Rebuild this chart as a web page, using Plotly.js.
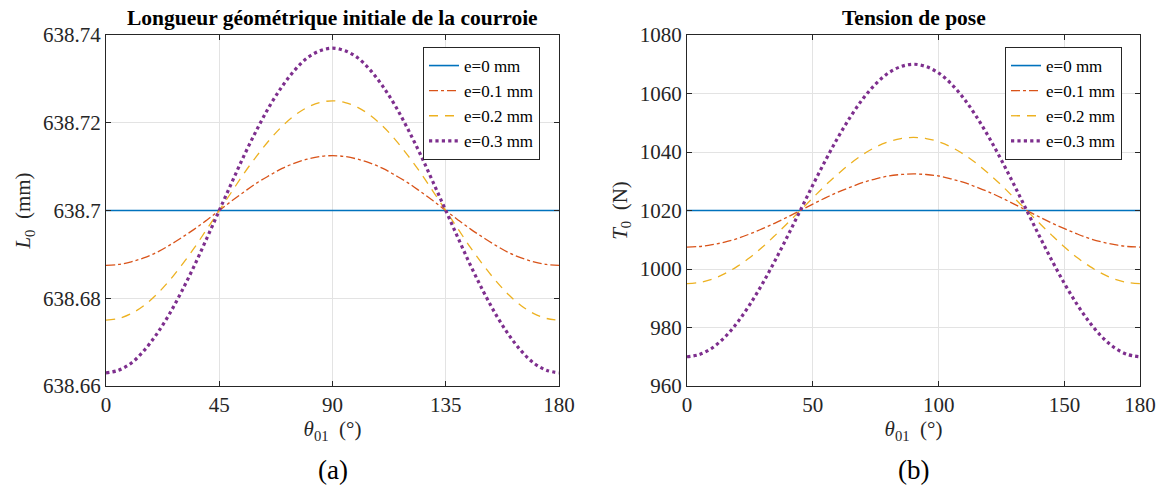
<!DOCTYPE html>
<html><head><meta charset="utf-8">
<script src="https://cdn.plot.ly/plotly-3.0.1.min.js"></script>
<style>html,body{margin:0;padding:0;background:#fff}</style>
</head><body><div id="chart" style="width:1165px;height:493px"></div>
<script>
// theta (degrees), 5-degree steps
const theta = [0,5,10,15,20,25,30,35,40,45,50,55,60,65,70,75,80,85,90,95,100,105,110,115,120,125,130,135,140,145,150,155,160,165,170,175,180];
const thetaFlat = [0,180];
const legendNames = ['e=0 mm','e=0.1 mm','e=0.2 mm','e=0.3 mm'];

// (a) L0 (mm)
const L0_e0 = [638.7,638.7];
const L0_e01 = [638.6875,638.6877,638.6883,638.6892,638.6904,638.6920,638.6938,638.6957,638.6978,638.7000,638.7022,638.7043,638.7063,638.7080,638.7096,638.7108,638.7117,638.7123,638.7125,
                638.7123,638.7117,638.7108,638.7096,638.7080,638.7063,638.7043,638.7022,638.7000,638.6978,638.6957,638.6938,638.6920,638.6904,638.6892,638.6883,638.6877,638.6875];
const L0_e02 = [638.6750,638.6754,638.6765,638.6783,638.6808,638.6839,638.6875,638.6914,638.6957,638.7000,638.7043,638.7086,638.7125,638.7161,638.7192,638.7217,638.7235,638.7246,638.7250,
                638.7246,638.7235,638.7217,638.7192,638.7161,638.7125,638.7086,638.7043,638.7000,638.6957,638.6914,638.6875,638.6839,638.6808,638.6783,638.6765,638.6754,638.6750];
const L0_e03 = [638.6630,638.6636,638.6652,638.6680,638.6717,638.6762,638.6815,638.6873,638.6936,638.7000,638.7064,638.7127,638.7185,638.7238,638.7283,638.7320,638.7348,638.7364,638.7370,
                638.7364,638.7348,638.7320,638.7283,638.7238,638.7185,638.7127,638.7064,638.7000,638.6936,638.6873,638.6815,638.6762,638.6717,638.6680,638.6652,638.6636,638.6630];

// (b) T0 (N)
const T0_e0 = [1020,1020];
const T0_e01 = [1007.5,1007.7,1008.3,1009.2,1010.4,1012.0,1013.8,1015.7,1017.8,1020.0,1022.2,1024.3,1026.3,1028.0,1029.6,1030.8,1031.8,1032.3,1032.5,
                1032.3,1031.8,1030.8,1029.6,1028.0,1026.3,1024.3,1022.2,1020.0,1017.8,1015.7,1013.8,1012.0,1010.4,1009.2,1008.3,1007.7,1007.5];
const T0_e02 = [995.0,995.4,996.5,998.4,1000.9,1003.9,1007.5,1011.5,1015.7,1020.0,1024.3,1028.6,1032.5,1036.1,1039.2,1041.7,1043.5,1044.6,1045.0,
                1044.6,1043.5,1041.7,1039.2,1036.1,1032.5,1028.6,1024.3,1020.0,1015.7,1011.5,1007.5,1003.9,1000.9,998.4,996.5,995.4,995.0];
const T0_e03 = [970.0,970.8,973.0,976.7,981.7,987.9,995.0,1002.9,1011.3,1020.0,1028.7,1037.1,1045.0,1052.1,1058.3,1063.3,1067.0,1069.2,1070.0,
                1069.2,1067.0,1063.3,1058.3,1052.1,1045.0,1037.1,1028.7,1020.0,1011.3,1002.9,995.0,987.9,981.7,976.7,973.0,970.8,970.0];

// tick labels
const xTicksA = [0,45,90,135,180];
const xTicksB = [0,50,100,150,180];
const yTicksA = [638.66,638.68,638.7,638.72,638.74];
const yTickTextA = ['638.66','638.68','638.7','638.72','638.74'];
const yTicksB = [960,980,1000,1020,1040,1060,1080];

const colors = ['#0072BD','#D95319','#EDB120','#7E2F8E'];
const styles = [
  {color:colors[0], width:1.6, dash:'solid'},
  {color:colors[1], width:1.3, dash:'dashdot'},
  {color:colors[2], width:1.3, dash:'9px,7px'},
  {color:colors[3], width:3.2, dash:'dot'}
];
const FONT = 'Liberation Serif';

const aY = [L0_e0, L0_e01, L0_e02, L0_e03];
const bY = [T0_e0, T0_e01, T0_e02, T0_e03];
const traces = [];
aY.forEach((y,i)=>traces.push({x: i===0?thetaFlat:theta, y:y, name:legendNames[i], mode:'lines', line:Object.assign({shape:'spline'},styles[i]), xaxis:'x', yaxis:'y', legend:'legend'}));
bY.forEach((y,i)=>traces.push({x: i===0?thetaFlat:theta, y:y, name:legendNames[i], mode:'lines', line:Object.assign({shape:'spline'},styles[i]), xaxis:'x2', yaxis:'y2', legend:'legend2'}));

const axCommon = {
  showline:true, mirror:'ticks', linecolor:'#262626', linewidth:1,
  ticks:'inside', ticklen:5, tickcolor:'#262626',
  showgrid:true, gridcolor:'#e3e3e3', gridwidth:1, zeroline:false,
  tickfont:{family:FONT, size:21, color:'#262626'}
};
const yDom = [1-386/493, 1-35/493];
const legendCommon = {
  bgcolor:'#ffffff', bordercolor:'#262626', borderwidth:1,
  font:{family:FONT, size:17, color:'#000'}, xanchor:'left', yanchor:'top',
  tracegroupgap:0, itemwidth:30
};
const layout = {
  width:1165, height:493, margin:{l:0,r:0,t:0,b:0},
  paper_bgcolor:'#fff', plot_bgcolor:'#fff',
  font:{family:FONT, color:'#262626', size:21},
  xaxis: Object.assign({}, axCommon, {domain:[106/1165,559/1165], range:[0,180], tickvals:xTicksA, anchor:'y',
          title:{text:'<i>θ</i><sub>01</sub>  (°)', font:{family:FONT,size:21,color:'#262626'}, standoff:2}}),
  yaxis: Object.assign({}, axCommon, {domain:yDom, range:[638.66,638.74], tickvals:yTicksA, ticktext:yTickTextA, anchor:'x',
          title:{text:'<i>L</i><sub>0</sub>  (mm)', font:{family:FONT,size:21,color:'#262626'}, standoff:6}}),
  xaxis2: Object.assign({}, axCommon, {domain:[687/1165,1140/1165], range:[0,180], tickvals:xTicksB, anchor:'y2',
          title:{text:'<i>θ</i><sub>01</sub>  (°)', font:{family:FONT,size:21,color:'#262626'}, standoff:2}}),
  yaxis2: Object.assign({}, axCommon, {domain:yDom, range:[960,1080], tickvals:yTicksB, anchor:'x2',
          title:{text:'<i>T</i><sub>0</sub>  (N)', font:{family:FONT,size:21,color:'#262626'}, standoff:6}}),
  legend: Object.assign({}, legendCommon, {x:423/1165, y:1-47/493}),
  legend2: Object.assign({}, legendCommon, {x:1005/1165, y:1-47/493}),
  showlegend:true,
  annotations:[
    {text:'<b>Longueur géométrique initiale de la courroie</b>', xref:'paper', yref:'paper', x:332.5/1165, y:1-18/493, xanchor:'center', yanchor:'middle', showarrow:false, font:{family:FONT,size:21.5,color:'#000'}},
    {text:'<b>Tension de pose</b>', xref:'paper', yref:'paper', x:913.5/1165, y:1-18/493, xanchor:'center', yanchor:'middle', showarrow:false, font:{family:FONT,size:21.5,color:'#000'}},
    {text:'(a)', xref:'paper', yref:'paper', x:332.5/1165, y:1-470/493, xanchor:'center', yanchor:'middle', showarrow:false, font:{family:FONT,size:27,color:'#000'}},
    {text:'(b)', xref:'paper', yref:'paper', x:913.5/1165, y:1-470/493, xanchor:'center', yanchor:'middle', showarrow:false, font:{family:FONT,size:27,color:'#000'}}
  ]
};
Plotly.newPlot('chart', traces, layout, {displayModeBar:false, staticPlot:true});
</script></body></html>
